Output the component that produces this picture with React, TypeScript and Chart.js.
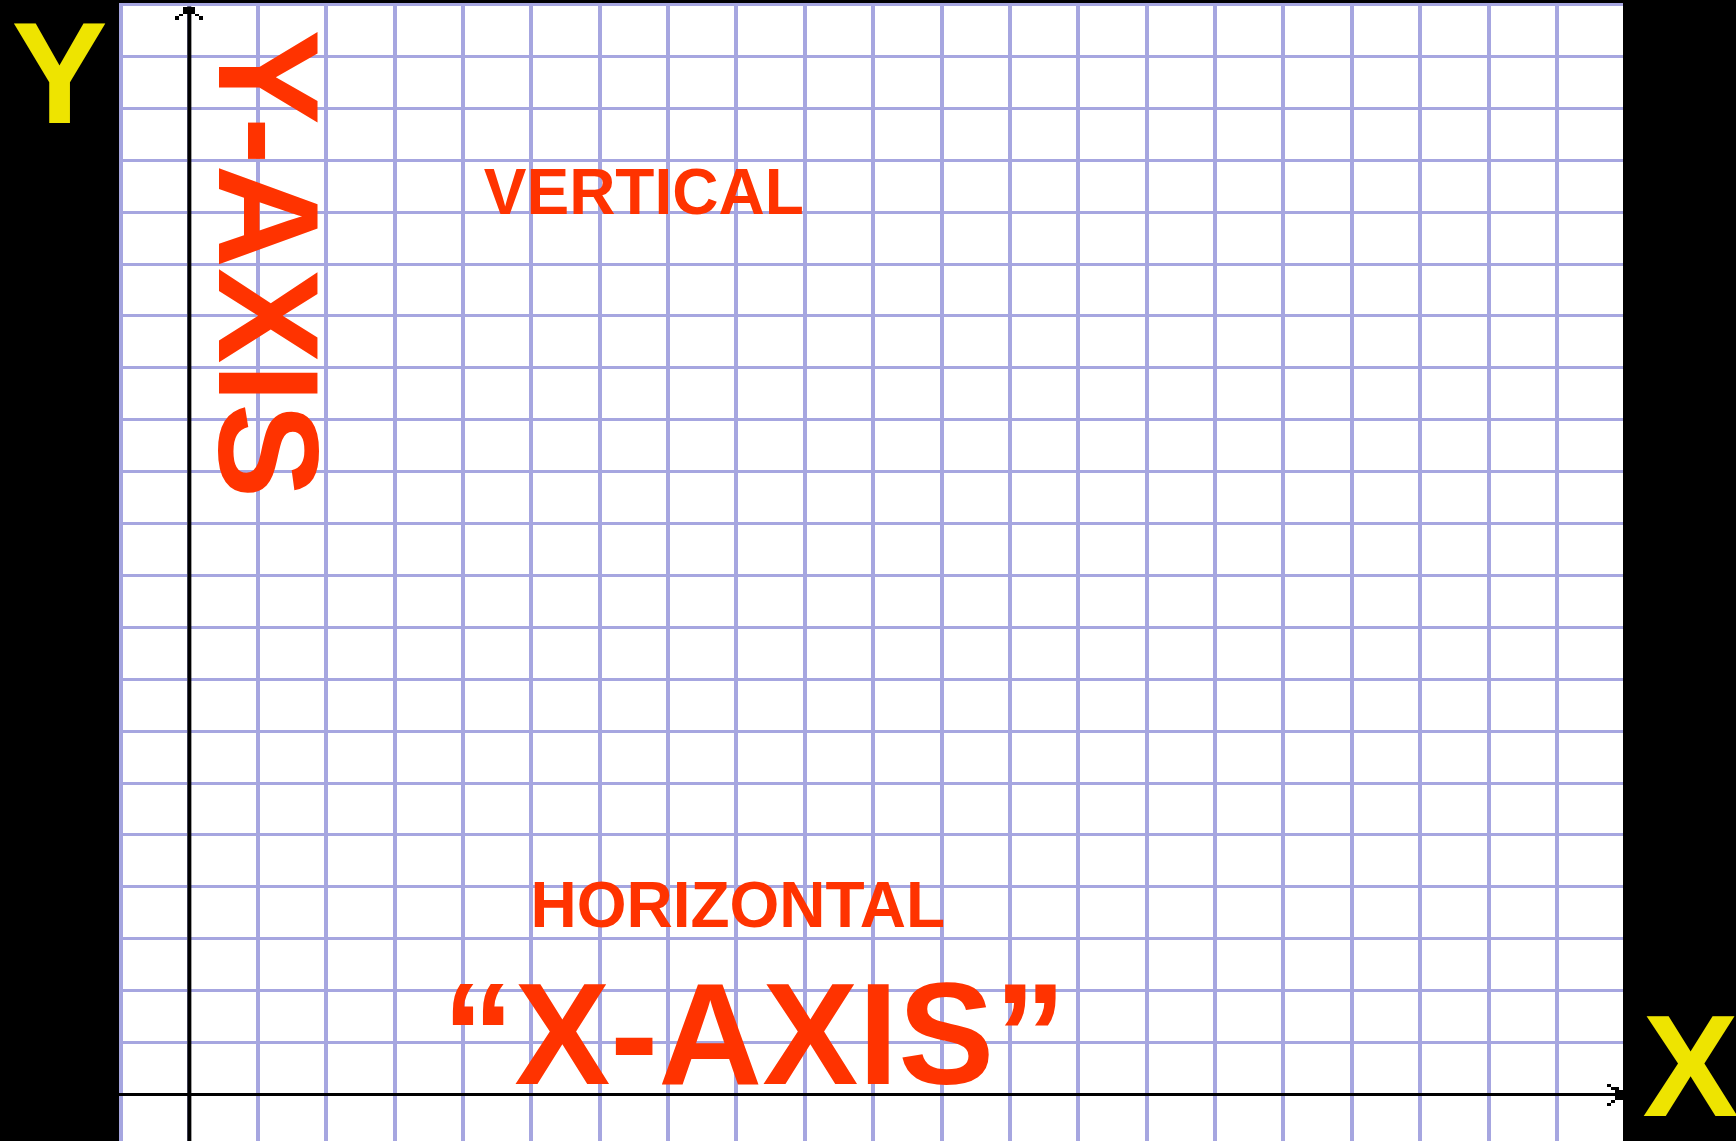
import React, { useEffect, useRef } from "react";
import { Chart, registerables } from "chart.js";

Chart.register(...registerables);

// ---- data ----
const xGridValues = [-1, 0, 1, 2, 3, 4, 5, 6, 7, 8, 9, 10, 11, 12, 13, 14, 15, 16, 17, 18, 19, 20];
const yGridValues = [0, 1, 2, 3, 4, 5, 6, 7, 8, 9, 10, 11, 12, 13, 14, 15, 16, 17, 18, 19, 20, 21];
const xRange = [-1.029, 20.965];
const yRange = [-0.896, 21.029];
const xAxisLine = [
  { x: -1.029, y: 0 },
  { x: 20.965, y: 0 },
];
const yAxisLine = [
  { x: 0, y: -0.896 },
  { x: 0, y: 20.96 },
];
const annotationTexts = ["VERTICAL", "HORIZONTAL", "\u201CX-AXIS\u201D"];
const yAxisTitle = "Y-AXIS";
const cornerLetters = ["Y", "X"];

const RED = "#FF3300";
const YELLOW = "#EEE400";
const GRID = "#A6A6E0";
const FONT = '"Liberation Sans", Arial, Helvetica, sans-serif';

const backgroundPlugin = {
  id: "bgFill",
  beforeDraw(chart: any) {
    const { ctx, chartArea: a, width, height } = chart;
    ctx.save();
    ctx.fillStyle = "#000";
    ctx.fillRect(0, 0, width, height);
    ctx.fillStyle = "#fff";
    ctx.fillRect(a.left, a.top, a.right - a.left, a.bottom - a.top);
    ctx.restore();
  },
};

const decorPlugin = {
  id: "decor",
  afterDatasetsDraw(chart: any) {
    const { ctx, chartArea: a, width } = chart;
    const xs = chart.scales.x;
    const ys = chart.scales.y;
    ctx.save();
    // arrowheads
    ctx.fillStyle = "#000";
    const tx = Math.round(xs.getPixelForValue(0));
    const ty = Math.round(ys.getPixelForValue(yAxisLine[1].y));
    ctx.fillRect(tx - 6, ty, 12, 7);
    ctx.fillRect(tx - 10, ty + 7, 4, 2);
    ctx.fillRect(tx + 6, ty + 7, 4, 2);
    ctx.fillRect(tx - 14, ty + 9, 4, 4);
    ctx.fillRect(tx + 10, ty + 9, 4, 4);

    const rx = Math.round(xs.getPixelForValue(xAxisLine[1].x));
    const ry = Math.round(ys.getPixelForValue(0));
    ctx.fillRect(rx - 8, ry - 4, 8, 10);
    ctx.fillRect(rx - 12, ry - 7, 8, 3);
    ctx.fillRect(rx - 16, ry - 10, 4, 3);
    ctx.fillRect(rx - 12, ry + 6, 4, 3);
    ctx.fillRect(rx - 16, ry + 9, 4, 3);

    // red annotations
    ctx.fillStyle = RED;
    ctx.textAlign = "center";
    ctx.textBaseline = "alphabetic";
    const spots = [
      { x: 6.645, y: 16.96, size: 64 },
      { x: 8.02, y: 3.227, size: 64 },
      { x: 8.26, y: 0.202, size: 144 },
    ];
    annotationTexts.forEach((t, i) => {
      const s = spots[i];
      ctx.font = `bold ${s.size}px ${FONT}`;
      ctx.fillText(t, xs.getPixelForValue(s.x), ys.getPixelForValue(s.y));
    });

    // rotated Y-AXIS
    ctx.save();
    ctx.translate(xs.getPixelForValue(0.44), ys.getPixelForValue(16.0));
    ctx.rotate(Math.PI / 2);
    ctx.font = `bold 143px ${FONT}`;
    ctx.fillText(yAxisTitle, 0, 0);
    ctx.restore();

    // yellow corner letters
    ctx.fillStyle = YELLOW;
    ctx.font = `bold 144px ${FONT}`;
    ctx.fillText(cornerLetters[0], a.left / 2, 123);
    ctx.fillText(cornerLetters[1], (a.right + width) / 2 + 11, 1116);
    ctx.restore();
  },
};

export default function App() {
  const canvasRef = useRef<HTMLCanvasElement | null>(null);

  useEffect(() => {
    document.body.style.margin = "0";
    document.body.style.background = "#000";
    const canvas = canvasRef.current;
    if (!canvas) return;
    const chart = new Chart(canvas, {
      type: "scatter",
      data: {
        datasets: [
          {
            data: xAxisLine,
            showLine: true,
            borderColor: "#000",
            borderWidth: 3,
            pointRadius: 0,
          },
          {
            data: yAxisLine,
            showLine: true,
            borderColor: "#000",
            borderWidth: 4,
            pointRadius: 0,
          },
        ],
      },
      options: {
        responsive: false,
        animation: false,
        events: [],
        layout: { padding: { left: 119, right: 113, top: 3, bottom: 0 } },
        plugins: {
          legend: { display: false },
          tooltip: { enabled: false },
          title: { display: false },
        },
        scales: {
          x: {
            type: "linear",
            min: xRange[0],
            max: xRange[1],
            afterBuildTicks: (scale: any) => {
              scale.ticks = xGridValues.map((v) => ({ value: v }));
            },
            ticks: { display: false },
            grid: { color: GRID, lineWidth: 4, drawTicks: false },
            border: { display: false },
          },
          y: {
            type: "linear",
            min: yRange[0],
            max: yRange[1],
            afterBuildTicks: (scale: any) => {
              scale.ticks = yGridValues.map((v) => ({ value: v }));
            },
            ticks: { display: false },
            grid: { color: GRID, lineWidth: 3, drawTicks: false },
            border: { display: false },
          },
        },
      },
      plugins: [backgroundPlugin, decorPlugin],
    } as any);
    return () => chart.destroy();
  }, []);

  return (
    <div style={{ position: "absolute", left: 0, top: 0, width: 1736, height: 1141, background: "#000" }}>
      <canvas ref={canvasRef} width={1736} height={1141} style={{ display: "block" }} />
    </div>
  );
}
